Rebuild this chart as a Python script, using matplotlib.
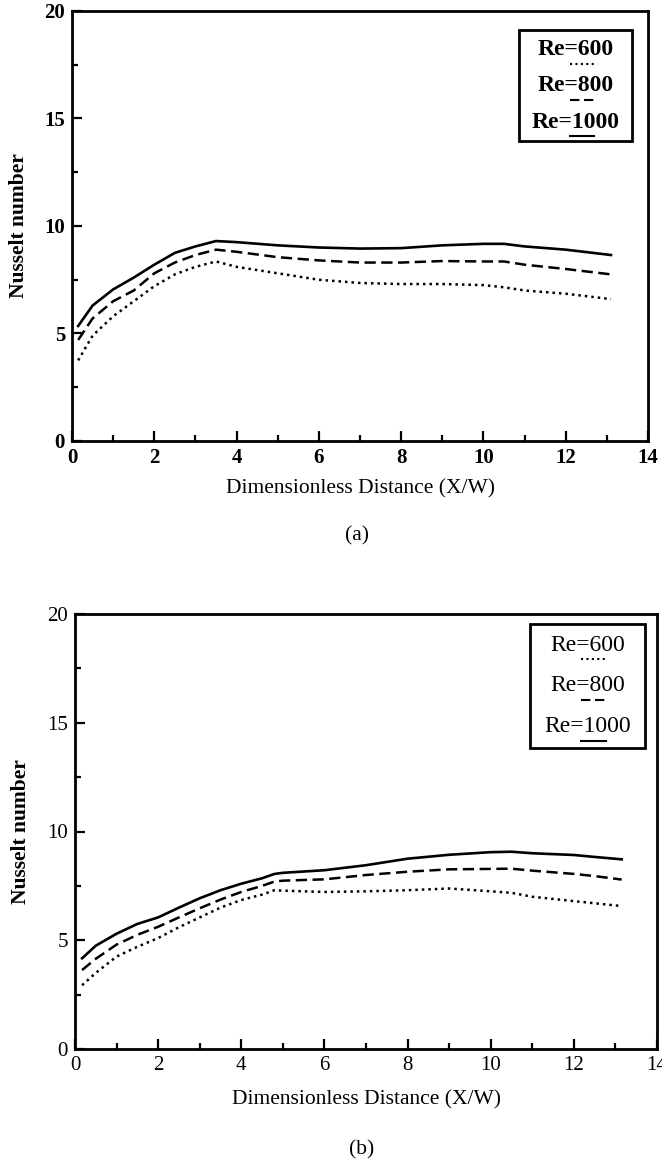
import matplotlib
matplotlib.use("Agg")
import matplotlib.pyplot as plt
from matplotlib.patches import Rectangle
from matplotlib.ticker import MultipleLocator

plt.rcParams['font.family'] = ['Liberation Serif', 'DejaVu Serif']

# ---------------- data ----------------
re_labels = ["Re=600", "Re=800", "Re=1000"]

x_a = [0.15, 0.5, 1.0, 1.5, 2.0, 2.5, 3.0, 3.5, 4.0, 5.0, 6.0, 7.0, 8.0, 9.0, 10.0, 10.5, 11.0, 12.0, 13.1]
nu_a_600 = [3.75, 4.9, 5.8, 6.5, 7.2, 7.75, 8.1, 8.35, 8.1, 7.8, 7.5, 7.35, 7.3, 7.3, 7.25, 7.15, 7.0, 6.85, 6.6]
nu_a_800 = [4.7, 5.7, 6.5, 7.0, 7.8, 8.3, 8.65, 8.9, 8.8, 8.55, 8.4, 8.3, 8.3, 8.37, 8.35, 8.35, 8.2, 8.0, 7.75]
nu_a_1000 = [5.35, 6.3, 7.05, 7.6, 8.2, 8.75, 9.05, 9.3, 9.25, 9.1, 9.0, 8.95, 8.97, 9.1, 9.17, 9.17, 9.05, 8.9, 8.65]

x_b = [0.17, 0.5, 1.0, 1.5, 2.0, 2.5, 3.0, 3.5, 4.0, 4.5, 4.8, 5.0, 6.0, 7.0, 8.0, 9.0, 10.0, 10.5, 11.0, 12.0, 12.5, 13.15]
nu_b_600 = [2.93, 3.5, 4.25, 4.7, 5.1, 5.6, 6.05, 6.5, 6.85, 7.1, 7.3, 7.28, 7.22, 7.25, 7.3, 7.38, 7.25, 7.18, 7.0, 6.8, 6.7, 6.57]
nu_b_800 = [3.63, 4.15, 4.8, 5.25, 5.62, 6.05, 6.47, 6.87, 7.22, 7.5, 7.7, 7.74, 7.8, 8.0, 8.15, 8.26, 8.28, 8.29, 8.2, 8.05, 7.95, 7.79]
nu_b_1000 = [4.17, 4.75, 5.3, 5.75, 6.05, 6.5, 6.93, 7.3, 7.6, 7.85, 8.05, 8.1, 8.22, 8.45, 8.75, 8.93, 9.05, 9.07, 9.0, 8.92, 8.83, 8.72]

x_ticks = [0, 2, 4, 6, 8, 10, 12, 14]
y_ticks = [0, 5, 10, 15, 20]
xlabel = "Dimensionless Distance (X/W)"
ylabel = "Nusselt number"
panel_tags = ["(a)", "(b)"]

# ---------------- layout ----------------
W, H = 662, 1165
fig = plt.figure(figsize=(W / 100, H / 100), dpi=100)

def rect(l, t, r, b):
    return [l / W, 1 - b / H, (r - l) / W, (b - t) / H]

ax_a = fig.add_axes(rect(72, 11, 648, 441))
ax_b = fig.add_axes(rect(75, 614, 657, 1049))

styles = [dict(ls=(0, (1, 1.6)), lw=1.8),
          dict(ls=(0, (4.5, 2.2)), lw=1.8),
          dict(ls='-', lw=1.9)]

def draw(ax, x, series, bold, legend_box, tag, tag_xy, xlabel_xy, ylabel_xy):
    for ys, st in zip(series, styles):
        ax.plot(x, ys, color='black', **st)
    ax.set_xlim(0, 14)
    ax.set_ylim(0, 20)
    ax.set_xticks(x_ticks)
    ax.set_yticks(y_ticks)
    ax.xaxis.set_minor_locator(MultipleLocator(1))
    ax.yaxis.set_minor_locator(MultipleLocator(2.5))
    ax.tick_params(which='both', direction='in', top=False, right=False,
                   width=1.6, labelsize=15, color='black')
    ax.tick_params(which='major', length=7)
    ax.tick_params(which='minor', length=4)
    ax.tick_params(axis='x', pad=5)
    ax.tick_params(axis='y', pad=5)
    for lab in ax.get_xticklabels() + ax.get_yticklabels():
        lab.set_fontweight('bold' if bold else 'normal')
    for sp in ax.spines.values():
        sp.set_linewidth(2.0)
    ax.set_xlabel(xlabel, fontsize=15.5)
    ax.set_ylabel(ylabel, fontsize=15.5, fontweight='bold')
    ax.xaxis.set_label_coords(*xlabel_xy)
    ax.yaxis.set_label_coords(*ylabel_xy)
    # legend box drawn in data coordinates
    x0, y0, x1, y1 = legend_box
    ax.add_patch(Rectangle((x0, y0), x1 - x0, y1 - y0, fill=False,
                           edgecolor='black', lw=2.0, zorder=5))
    cx = (x0 + x1) / 2
    n = len(re_labels)
    step = (y1 - y0) / (n + 0.05)
    for i, (lab, st) in enumerate(zip(re_labels, styles)):
        ty = y1 - step * (i + 0.5) - 0.05
        ax.text(cx, ty, lab, ha='center', va='center', fontsize=17,
                fontweight='bold' if bold else 'normal', zorder=6)
        ax.plot([cx - 0.15, cx + 0.45], [ty - 0.65, ty - 0.65], color='black',
                ls=st['ls'], lw=1.5, zorder=6)
    fig.text(tag_xy[0] / W, 1 - tag_xy[1] / H, tag, ha='center', va='center', fontsize=15.5)

draw(ax_a, x_a, [nu_a_600, nu_a_800, nu_a_1000], True,
     (10.87, 13.95, 13.62, 19.1), panel_tags[0], (357, 536), (0.50, -0.09), (-0.075, 0.5))
draw(ax_b, x_b, [nu_b_600, nu_b_800, nu_b_1000], False,
     (10.95, 13.85, 13.7, 19.55), panel_tags[1], (362, 1150), (0.50, -0.095), (-0.076, 0.5))

fig.savefig("out.png", dpi=100)
